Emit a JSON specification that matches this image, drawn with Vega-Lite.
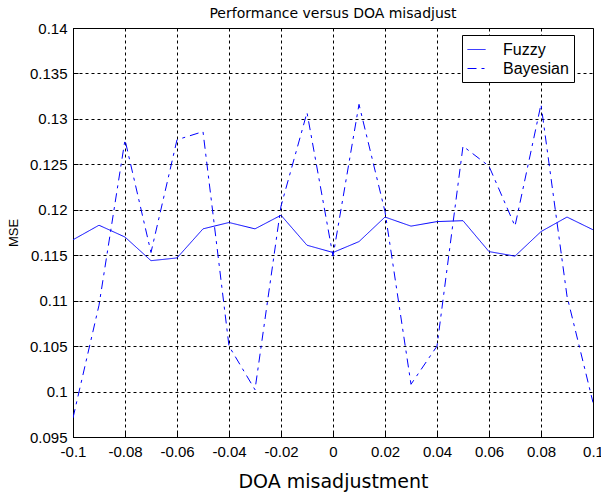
{
  "$schema": "https://vega.github.io/schema/vega-lite/v6.json",
  "autosize": "none",
  "width": 520,
  "height": 409,
  "padding": {"left": 73, "top": 28, "right": 8, "bottom": 59},
  "background": "white",
  "config": {
    "font": "Liberation Sans",
    "view": {"stroke": "black", "strokeWidth": 1},
    "axis": {
      "domainColor": "black",
      "tickColor": "black",
      "labelColor": "black",
      "titleColor": "black",
      "labelFontSize": 15,
      "grid": true,
      "gridColor": "black",
      "gridDash": [3, 3],
      "gridOpacity": 1,
      "gridWidth": 1,
      "tickSize": -5,
      "titleFontWeight": "normal"
    }
  },
  "title": {
    "text": "Performance versus DOA misadjust",
    "font": "DejaVu Sans",
    "fontSize": 14,
    "fontWeight": "normal",
    "color": "black",
    "anchor": "middle",
    "offset": 0
  },
  "data": {
    "values": [
      {"doa": -0.1, "method": "Fuzzy", "mse": 0.1167},
      {"doa": -0.09, "method": "Fuzzy", "mse": 0.1183},
      {"doa": -0.08, "method": "Fuzzy", "mse": 0.117},
      {"doa": -0.07, "method": "Fuzzy", "mse": 0.1144},
      {"doa": -0.06, "method": "Fuzzy", "mse": 0.1147},
      {"doa": -0.05, "method": "Fuzzy", "mse": 0.1179},
      {"doa": -0.04, "method": "Fuzzy", "mse": 0.1186},
      {"doa": -0.03, "method": "Fuzzy", "mse": 0.1179},
      {"doa": -0.02, "method": "Fuzzy", "mse": 0.1194},
      {"doa": -0.01, "method": "Fuzzy", "mse": 0.1161},
      {"doa": 0.0, "method": "Fuzzy", "mse": 0.1153},
      {"doa": 0.01, "method": "Fuzzy", "mse": 0.1165},
      {"doa": 0.02, "method": "Fuzzy", "mse": 0.1192},
      {"doa": 0.03, "method": "Fuzzy", "mse": 0.1182},
      {"doa": 0.04, "method": "Fuzzy", "mse": 0.1187},
      {"doa": 0.05, "method": "Fuzzy", "mse": 0.1188},
      {"doa": 0.06, "method": "Fuzzy", "mse": 0.1154},
      {"doa": 0.07, "method": "Fuzzy", "mse": 0.1149},
      {"doa": 0.08, "method": "Fuzzy", "mse": 0.1176},
      {"doa": 0.09, "method": "Fuzzy", "mse": 0.1192},
      {"doa": 0.1, "method": "Fuzzy", "mse": 0.1178},
      {"doa": -0.1, "method": "Bayesian", "mse": 0.0971},
      {"doa": -0.09, "method": "Bayesian", "mse": 0.1095},
      {"doa": -0.08, "method": "Bayesian", "mse": 0.1277},
      {"doa": -0.07, "method": "Bayesian", "mse": 0.1153},
      {"doa": -0.06, "method": "Bayesian", "mse": 0.1277},
      {"doa": -0.05, "method": "Bayesian", "mse": 0.1286},
      {"doa": -0.04, "method": "Bayesian", "mse": 0.105},
      {"doa": -0.03, "method": "Bayesian", "mse": 0.1002},
      {"doa": -0.02, "method": "Bayesian", "mse": 0.1204},
      {"doa": -0.01, "method": "Bayesian", "mse": 0.1307},
      {"doa": 0.0, "method": "Bayesian", "mse": 0.1149},
      {"doa": 0.01, "method": "Bayesian", "mse": 0.1316},
      {"doa": 0.02, "method": "Bayesian", "mse": 0.1198},
      {"doa": 0.03, "method": "Bayesian", "mse": 0.1008},
      {"doa": 0.04, "method": "Bayesian", "mse": 0.105},
      {"doa": 0.05, "method": "Bayesian", "mse": 0.127},
      {"doa": 0.06, "method": "Bayesian", "mse": 0.1248},
      {"doa": 0.07, "method": "Bayesian", "mse": 0.1182},
      {"doa": 0.08, "method": "Bayesian", "mse": 0.1316},
      {"doa": 0.09, "method": "Bayesian", "mse": 0.1105},
      {"doa": 0.1, "method": "Bayesian", "mse": 0.0988}
    ]
  },
  "mark": {"type": "line", "strokeWidth": 1, "clip": true},
  "encoding": {
    "x": {
      "field": "doa",
      "type": "quantitative",
      "scale": {"domain": [-0.1, 0.1], "nice": false, "zero": false},
      "axis": {
        "title": "DOA misadjustment",
        "titleFont": "DejaVu Sans",
        "titleFontSize": 19,
        "titlePadding": 13,
        "values": [-0.1, -0.08, -0.06, -0.04, -0.02, 0, 0.02, 0.04, 0.06, 0.08, 0.1],
        "labelExpr": "replace(format(datum.value, '.2~f'), '\u2212', '-')",
        "labelPadding": 12,
        "labelFlush": false
      }
    },
    "y": {
      "field": "mse",
      "type": "quantitative",
      "scale": {"domain": [0.095, 0.14], "nice": false, "zero": false},
      "axis": {
        "title": "MSE",
        "titleFontSize": 13,
        "titlePadding": 9,
        "values": [0.095, 0.1, 0.105, 0.11, 0.115, 0.12, 0.125, 0.13, 0.135, 0.14],
        "labelExpr": "format(datum.value, '.3~f')",
        "labelPadding": 11,
        "labelFlush": false
      }
    },
    "color": {
      "field": "method",
      "type": "nominal",
      "scale": {"domain": ["Fuzzy", "Bayesian"], "range": ["#0000ff", "#0000ff"]},
      "legend": {
        "title": null,
        "orient": "none",
        "legendX": 389,
        "legendY": 7,
        "symbolType": "stroke",
        "symbolSize": 324,
        "symbolStrokeWidth": 1,
        "labelFontSize": 16,
        "labelColor": "black",
        "labelOffset": 17,
        "strokeColor": "black",
        "fillColor": "white",
        "padding": 5,
        "rowPadding": 1
      }
    },
    "strokeDash": {
      "field": "method",
      "type": "nominal",
      "scale": {"domain": ["Fuzzy", "Bayesian"], "range": [[1, 0], [9, 5, 3, 5]]},
      "legend": {
        "title": null,
        "orient": "none",
        "legendX": 389,
        "legendY": 7
      }
    }
  }
}
